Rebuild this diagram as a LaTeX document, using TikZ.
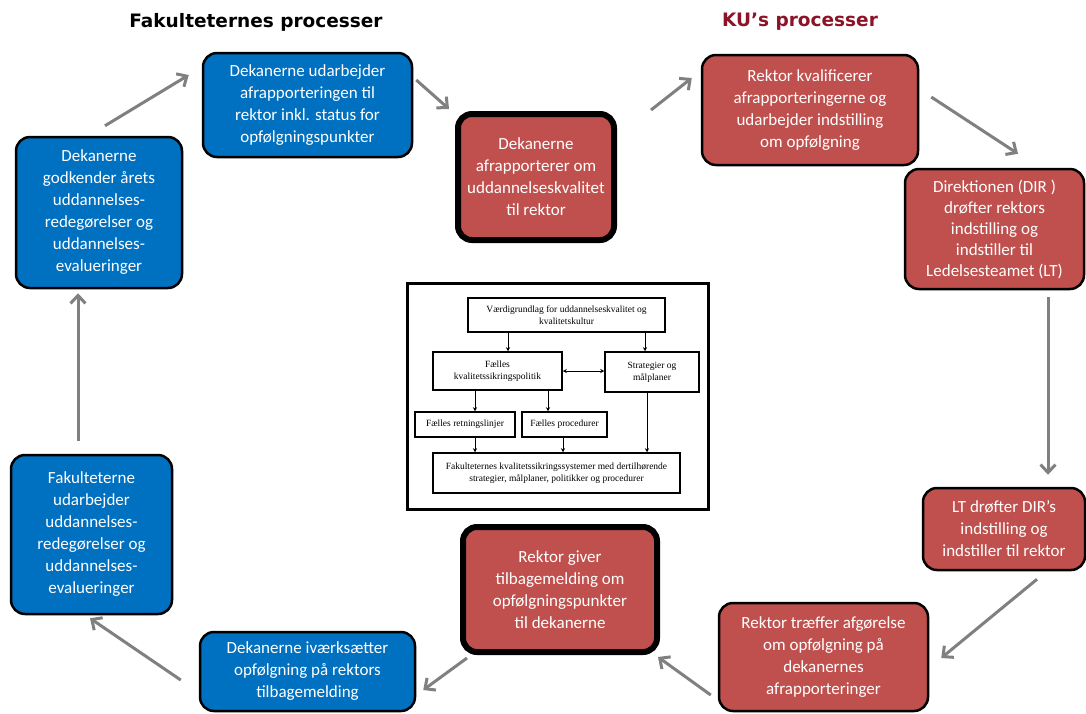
\documentclass[tikz,border=0pt]{standalone}
\usepackage{fontspec}
\newfontfamily\boxfont{Carlito}
\newfontfamily\titlefont{DejaVu Sans}
\newfontfamily\insetfont{Liberation Serif}
\usetikzlibrary{arrows.meta,calc}
\definecolor{kublue}{RGB}{0,112,192}
\definecolor{kured}{RGB}{192,80,77}
\definecolor{kutitle}{RGB}{140,20,40}
\definecolor{arrgray}{RGB}{128,128,128}
\begin{document}
\begin{tikzpicture}[x=1pt,y=-1pt,
 box/.style={draw=black, line width=2.5pt, rounded corners=14pt, text=white, align=center,
   font=\boxfont\fontsize{17}{22}\selectfont, inner sep=2pt},
 bluebox/.style={box, fill=kublue},
 redbox/.style={box, fill=kured},
 thickbox/.style={line width=6pt},
 titletext/.style={font=\titlefont\bfseries\fontsize{18.5}{22}\selectfont},
 arr/.style={draw=arrgray, line width=3pt, -{Straight Barb[length=8pt,width=15pt]}},
 ibox/.style={draw=black, line width=1.5pt, align=center,
   font=\insetfont\fontsize{9.5}{12}\selectfont, inner sep=1pt},
 iarr/.style={draw=black, line width=0.8pt, -{Stealth[length=4pt,width=4pt]}},
 idarr/.style={draw=black, line width=0.8pt, {Stealth[length=4pt,width=4pt]}-{Stealth[length=4pt,width=4pt]}},
]
\useasboundingbox (0,0) rectangle (1086,713);
\fill[white] (0,0) rectangle (1086,713);

% titles
\node[titletext] (t1) at (256,22) {Fakulteternes processer};
\node[titletext, text=kutitle] (t2) at (800,22) {KU’s processer};

% main boxes
\node[bluebox, minimum width=209pt, minimum height=104pt] (b1) at (307.5,105)
  {Dekanerne udarbejder\\afrapporteringen til\\rektor inkl. status for\\opfølgningspunkter};
\node[redbox, thickbox, minimum width=156pt, minimum height=126pt] (b2) at (536,177)
  {Dekanerne\\afrapporterer om\\uddannelseskvalitet\\til rektor};
\node[redbox, minimum width=216pt, minimum height=110pt] (b3) at (810,110)
  {Rektor kvalificerer\\afrapporteringerne og\\udarbejder indstilling\\om opfølgning};
\node[redbox, minimum width=179pt, minimum height=120pt, font=\boxfont\fontsize{17}{21}\selectfont] (b4) at (994.5,229)
  {Direktionen (DIR )\\drøfter rektors\\indstilling og\\indstiller til\\Ledelsesteamet (LT)};
\node[redbox, minimum width=162pt, minimum height=82pt] (b5) at (1004,529)
  {LT drøfter DIR’s\\indstilling og\\indstiller til rektor};
\node[redbox, minimum width=209pt, minimum height=108pt] (b6) at (823.5,657)
  {Rektor træffer afgørelse\\om opfølgning på\\dekanernes\\afrapporteringer};
\node[redbox, thickbox, minimum width=194pt, minimum height=125pt] (b7) at (560,589.5)
  {Rektor giver\\tilbagemelding om\\opfølgningspunkter\\til dekanerne};
\node[bluebox, minimum width=215pt, minimum height=79pt] (b8) at (307.5,671.5)
  {Dekanerne iværksætter\\opfølgning på rektors\\tilbagemelding};
\node[bluebox, minimum width=161pt, minimum height=159pt] (b9) at (91.5,534.5)
  {Fakulteterne\\udarbejder\\uddannelses-\\redegørelser og\\uddannelses-\\evalueringer};
\node[bluebox, minimum width=166pt, minimum height=151pt] (b10) at (99,212.5)
  {Dekanerne\\godkender årets\\uddannelses-\\redegørelser og\\uddannelses-\\evalueringer};

% cycle arrows
\draw[arr] ($(b10.north)+(6,-10)$) -- ($(b1.west)+(-13,-30)$);
\draw[arr] ($(b1.east)+(3,-25)$) -- ($(b2.north west)+(-6,-2)$);
\draw[arr] ($(b2.north east)+(34,-1)$) -- ($(b3.west)+(-9,-32)$);
\draw[arr] ($(b3.east)+(12,-13)$) -- ($(b4.north)+(23.5,-14)$);
\draw[arr] ($(b4.south)+(53.5,7)$) -- ($(b5.north)+(44,-12)$);
\draw[arr] ($(b5.south)+(33,8)$) -- ($(b6.east)+(12,1)$);
\draw[arr] ($(b6.west)+(-7,38)$) -- ($(b7.south east)+(-2,2)$);
\draw[arr] ($(b7.south west)+(7,3)$) -- ($(b8.east)+(7,18.5)$);
\draw[arr] ($(b8.west)+(-18,8.5)$) -- ($(b9.south)+(-1.5,3)$);
\draw[arr] ($(b9.north)+(-13.5,-13)$) -- ($(b10.south)+(-21,4)$);

% central inset
\draw[line width=3pt] (407,283) rectangle (708,509);
\node[ibox, minimum width=197pt, minimum height=34pt] (top) at (566.5,315)
  {Værdigrundlag for uddannelseskvalitet og\\kvalitetskultur};
\node[ibox, minimum width=129pt, minimum height=38pt] (fk) at (497.5,371)
  {Fælles\\kvalitetssikringspolitik};
\node[ibox, minimum width=94pt, minimum height=40pt] (strat) at (652,372)
  {Strategier og\\målplaner};
\node[ibox, minimum width=100pt, minimum height=25pt] (retn) at (465,424.5)
  {Fælles retningslinjer};
\node[ibox, minimum width=85pt, minimum height=25pt] (proc) at (564.5,424.5)
  {Fælles procedurer};
\node[ibox, minimum width=247pt, minimum height=40pt] (bot) at (556.5,473)
  {Fakulteternes kvalitetssikringssystemer med dertilhørende\\strategier, målplaner, politikker og procedurer};

\draw[iarr] (508,0 |- top.south) -- (508,0 |- fk.north);
\draw[iarr] (645,0 |- top.south) -- (645,0 |- strat.north);
\draw[idarr] (fk.east) -- (fk.east -| strat.west);
\draw[iarr] (475,0 |- fk.south) -- (475,0 |- retn.north);
\draw[iarr] (548,0 |- fk.south) -- (548,0 |- proc.north);
\draw[iarr] (475,0 |- retn.south) -- (475,0 |- bot.north);
\draw[iarr] (563,0 |- proc.south) -- (563,0 |- bot.north);
\draw[iarr] (647,0 |- strat.south) -- (647,0 |- bot.north);
\end{tikzpicture}
\end{document}
